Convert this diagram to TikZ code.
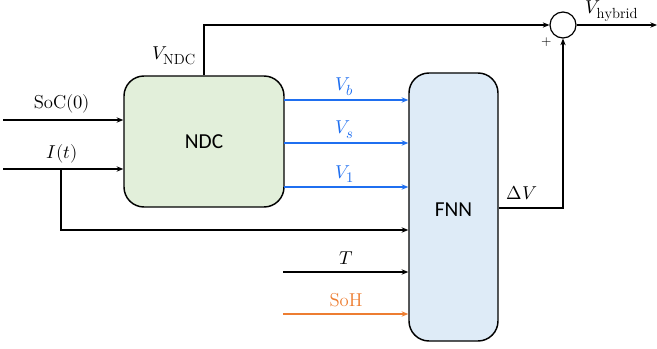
\documentclass[tikz,border=0pt]{standalone}
\usepackage{fontspec}
\usepackage{unicode-math}
\DeclareMathSizes{14}{14}{11}{9}
\newfontfamily\carlito{Carlito}
\usetikzlibrary{arrows.meta,calc}
\definecolor{boxgreen}{HTML}{E2EFDA}
\definecolor{boxblue}{HTML}{DEEBF7}
\definecolor{sigblue}{HTML}{1F6FF0}
\definecolor{sigorange}{HTML}{ED7D31}
\tikzset{
  blk/.style={draw=black, line width=1.1pt, rounded corners=15pt, font=\carlito\fontsize{16}{18}\selectfont},
  sig/.style={line width=0.9pt, -{Stealth[length=5pt,width=4pt]}},
  lbl/.style={font=\fontsize{14}{16}\selectfont, inner sep=1pt},
  sumc/.style={draw=black, circle, line width=0.9pt, minimum size=19.5pt, inner sep=0pt}
}
\begin{document}
\begin{tikzpicture}[x=0.75pt,y=-0.75pt]
\useasboundingbox (0,0) rectangle (657,349);
\node[blk, fill=boxgreen, minimum width=120pt, minimum height=98.25pt] (ndc) at (204,141.5) {NDC};
\node[blk, fill=boxblue, minimum width=66.75pt, minimum height=201pt] (fnn) at (453.5,207) {};
\node[font=\carlito\fontsize{16}{18}\selectfont] (fnnt) at (453.5,210) {FNN};
\node[sumc] (sum) at (563,25) {};
% inputs
\coordinate (socs) at (3,120);
\coordinate (its) at (3,169);
\coordinate (ib) at (61,169);
\coordinate (ic) at (61,230);
\coordinate (ts) at (283,272);
\coordinate (sohs) at (283,314);
\coordinate (vtop) at (204,25);
\coordinate (vout) at (657,25);
\coordinate (dv) at (563,208);
\draw[sig] (socs) -- (socs -| ndc.west);
\node[lbl] (socl) at (62,104) {$\mathrm{SoC}(0)$};
\draw[sig] (its) -- (its -| ndc.west);
\node[lbl] (itl) at (62,154) {$I(t)$};
\draw[sig] (ib) -- (ic) -- (ic -| fnn.west);
% blue signals
\coordinate (vb) at (284,100);
\coordinate (vs) at (284,143);
\coordinate (v1) at (284,187);
\draw[sig, sigblue] (vb) -- (vb -| fnn.west);
\draw[sig, sigblue] (vs) -- (vs -| fnn.west);
\draw[sig, sigblue] (v1) -- (v1 -| fnn.west);
\node[lbl, text=sigblue] (vbl) at (345,87) {$V_b$};
\node[lbl, text=sigblue] (vsl) at (345,130) {$V_s$};
\node[lbl, text=sigblue] (v1l) at (345,174) {$V_1$};
\draw[sig] (ts) -- (ts -| fnn.west);
\node[lbl] (tl) at (346,258) {$T$};
\draw[sig, sigorange] (sohs) -- (sohs -| fnn.west);
\node[lbl, text=sigorange] (sohl) at (346,300) {$\mathrm{SoH}$};
% top path
\draw[sig] (ndc.north) -- (vtop) -- (sum.west);
\node[lbl] (vndcl) at (174,56) {$V_{\mathrm{NDC}}$};
\draw[sig] (sum.east) -- (vout);
\node[lbl] (vhl) at (612,11) {$V_{\mathrm{hybrid}}$};
\node[lbl, font=\fontsize{10}{11}\selectfont] (plus) at (547,42) {$+$};
% delta V
\draw[sig] (dv -| fnn.east) -- (dv) -- (sum.south);
\node[lbl] (dvl) at (522,193) {$\Delta V$};
\end{tikzpicture}
\end{document}
